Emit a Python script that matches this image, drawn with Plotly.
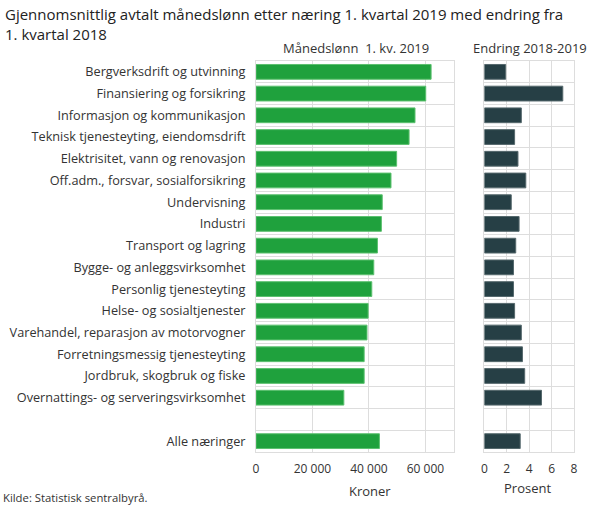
import plotly.graph_objects as go
from plotly.subplots import make_subplots

# data
categories = [
    "Bergverksdrift og utvinning",
    "Finansiering og forsikring",
    "Informasjon og kommunikasjon",
    "Teknisk tjenesteyting, eiendomsdrift",
    "Elektrisitet, vann og renovasjon",
    "Off.adm., forsvar, sosialforsikring",
    "Undervisning",
    "Industri",
    "Transport og lagring",
    "Bygge- og anleggsvirksomhet",
    "Personlig tjenesteyting",
    "Helse- og sosialtjenester",
    "Varehandel, reparasjon av motorvogner",
    "Forretningsmessig tjenesteyting",
    "Jordbruk, skogbruk og fiske",
    "Overnattings- og serveringsvirksomhet",
    " ",
    "Alle næringer",
]
monthly_pay = [62000, 60100, 56300, 54200, 49800, 47800, 44700, 44400, 43000,
               41700, 41000, 39700, 39300, 38300, 38300, 31100, None, 43700]
change_pct = [1.9, 7.0, 3.3, 2.7, 3.0, 3.7, 2.4, 3.1, 2.8,
              2.6, 2.6, 2.7, 3.3, 3.4, 3.6, 5.1, None, 3.2]
pay_ticks = [0, 20000, 40000, 60000]
pct_ticks = [0, 2, 4, 6, 8]

GREEN = "#1fa13d"
DARK = "#263f45"
GRID = "#dddddd"
TEXT = "#333333"
FONT = "Open Sans"

W, H = 610, 511
ML, MR, MT, MB = 256, 35.5, 61, 59
pw = W - ML - MR
ph = H - MT - MB


# pixel -> paper coordinates
def px(x):
    return (x - ML) / pw


def py(y):
    return (H - MB - y) / ph


fig = make_subplots(rows=1, cols=2, shared_yaxes=True, horizontal_spacing=0.0)

fig.add_trace(go.Bar(x=monthly_pay, y=categories, orientation="h",
                     marker=dict(color=GREEN, line=dict(color="#5cc06f", width=1)),
                     width=0.68, hoverinfo="x+y"), row=1, col=1)
fig.add_trace(go.Bar(x=change_pct, y=categories, orientation="h",
                     marker=dict(color=DARK, line=dict(color="#55686c", width=1)),
                     width=0.68, hoverinfo="x+y"), row=1, col=2)

axis_common = dict(showgrid=True, gridcolor=GRID, gridwidth=1, zeroline=False,
                   showline=True, linecolor=GRID, mirror=True, ticks="",
                   ticklabelstandoff=6, automargin=False,
                   tickfont=dict(family=FONT, size=12, color=TEXT), fixedrange=True)

fig.update_xaxes(range=[0, 70000], tickvals=pay_ticks, tickformat=",.0f",
                 domain=[0, px(454)], **axis_common, row=1, col=1)
fig.update_xaxes(range=[0, 8], tickvals=pct_ticks, domain=[px(484.7), 1],
                 **axis_common, row=1, col=2)

# tickson boundaries puts the row lines between the categories
fig.update_yaxes(type="category", categoryorder="array", categoryarray=categories,
                 autorange="reversed", tickson="boundaries", showgrid=True,
                 gridcolor=GRID, showline=True, linecolor=GRID, mirror=True,
                 ticks="", zeroline=False, ticklabelstandoff=7, automargin=False,
                 tickfont=dict(family=FONT, size=12.7, color=TEXT), fixedrange=True)
fig.update_yaxes(showticklabels=False, row=1, col=2)

ann = dict(xref="paper", yref="paper", showarrow=False, xanchor="center",
           yanchor="middle", font=dict(family=FONT, size=13, color=TEXT))
fig.add_annotation(text="Månedslønn  1. kv. 2019", x=px(356), y=py(48), **ann)
fig.add_annotation(text="Endring 2018-2019", x=px(530.5), y=py(48), **ann)
fig.add_annotation(text="Kroner", x=px(370), y=py(490.5), **ann)
fig.add_annotation(text="Prosent", x=px(528), y=py(488), **ann)
fig.add_annotation(text="Kilde: Statistisk sentralbyrå.", x=px(2), y=py(497),
                   xanchor="left", yanchor="middle", xref="paper", yref="paper",
                   showarrow=False, borderpad=0,
                   font=dict(family=FONT, size=11.3, color=TEXT))
fig.add_annotation(text="Gjennomsnittlig avtalt månedslønn etter næring 1. kvartal 2019 med endring fra<br>1. kvartal 2018",
                   x=px(4), y=py(3), xanchor="left", yanchor="top", align="left",
                   xref="paper", yref="paper", showarrow=False, borderpad=0,
                   font=dict(family=FONT, size=15, color="#222222"))

fig.update_layout(
    width=W, height=H,
    margin=dict(l=ML, r=MR, t=MT, b=MB, autoexpand=False),
    paper_bgcolor="white", plot_bgcolor="white",
    showlegend=False, bargap=0.3,
    separators=", ",
)

fig.write_html("out.html", config={"displayModeBar": False},
               post_script="document.body.style.margin='0';")
